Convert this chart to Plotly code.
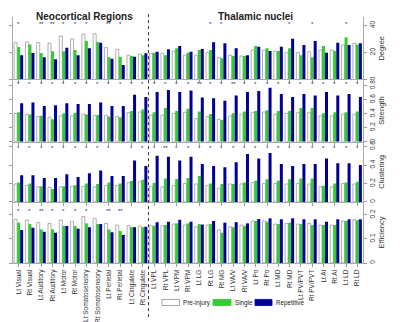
import plotly.graph_objects as go
from plotly.subplots import make_subplots

categories = ["Lt Visual", "Rt Visual", "Lt Auditory", "Rt Auditory", "Lt Motor", "Rt Motor",
              "Lt Somatosensory", "Rt Somatosensory", "Lt Perietal", "Rt Perietal",
              "Lt Cingulate", "Rt Cingulate",
              "Lt VPL", "Rt VPL", "Lt VPM", "Rt VPM", "Lt LG", "Rt LG", "Rt MG",
              "Lt VA/V", "Rt VA/V", "Lt Po", "Rt Po", "Lt MD", "Rt MD",
              "Lt PV/PVT", "Rt PV/PVT", "Lt AI", "Rt AI", "Lt LD", "Rt LD"]

series_names = ["Pre-injury", "Single", "Repetitive"]

degree_pre = [27.3, 27.8, 27.3, 26.8, 32.2, 30.0, 33.7, 33.9, 23.6, 22.4, 17.9, 18.9,
              19.4, 19.4, 21.1, 18.0, 18.0, 20.1, 16.2, 18.0, 17.4, 21.9, 21.9, 21.1, 20.1,
              20.1, 20.6, 21.9, 21.9, 25.6, 26.8]
degree_single = [24.0, 26.0, 19.6, 20.9, 20.9, 21.9, 28.5, 27.8, 16.4, 16.9, 17.4, 17.9,
                 19.9, 18.0, 23.1, 19.9, 21.9, 21.9, 15.7, 17.4, 17.4, 24.8, 23.1, 21.1, 23.1,
                 18.0, 16.4, 24.8, 21.1, 31.3, 26.0]
degree_rep = [18.0, 19.6, 16.4, 15.0, 23.6, 18.0, 23.1, 27.3, 15.4, 10.7, 16.9, 19.4,
              20.6, 22.4, 24.8, 20.6, 22.6, 27.5, 26.8, 23.1, 18.0, 24.3, 21.1, 24.3, 30.2,
              25.6, 28.5, 19.9, 27.3, 25.6, 26.8]

strength_pre = [0.405, 0.39, 0.36, 0.35, 0.37, 0.37, 0.395, 0.375, 0.375, 0.36, 0.415, 0.425,
                0.38, 0.38, 0.405, 0.42, 0.33, 0.36, 0.32, 0.37, 0.395, 0.42, 0.425, 0.395,
                0.405, 0.415, 0.415, 0.37, 0.37, 0.395, 0.395]
strength_single = [0.42, 0.39, 0.37, 0.32, 0.405, 0.415, 0.39, 0.38, 0.36, 0.35, 0.44, 0.46,
                   0.42, 0.48, 0.44, 0.47, 0.43, 0.395, 0.31, 0.405, 0.43, 0.44, 0.45, 0.44,
                   0.44, 0.48, 0.48, 0.405, 0.42, 0.42, 0.43]
strength_rep = [0.55, 0.56, 0.51, 0.52, 0.55, 0.54, 0.54, 0.56, 0.51, 0.51, 0.67, 0.64,
                0.71, 0.74, 0.71, 0.73, 0.63, 0.62, 0.585, 0.66, 0.71, 0.725, 0.77, 0.68,
                0.64, 0.68, 0.66, 0.71, 0.66, 0.68, 0.64]

clustering_pre = [0.195, 0.18, 0.165, 0.16, 0.165, 0.17, 0.17, 0.165, 0.18, 0.18, 0.21, 0.22,
                  0.17, 0.165, 0.18, 0.2, 0.195, 0.18, 0.15, 0.195, 0.195, 0.21, 0.2, 0.2,
                  0.195, 0.2, 0.195, 0.165, 0.165, 0.2, 0.195]
clustering_single = [0.21, 0.2, 0.17, 0.14, 0.17, 0.18, 0.2, 0.195, 0.21, 0.2, 0.23, 0.24,
                     0.205, 0.255, 0.25, 0.26, 0.28, 0.2, 0.195, 0.195, 0.21, 0.23, 0.245, 0.23,
                     0.245, 0.255, 0.255, 0.175, 0.2, 0.21, 0.22]
clustering_rep = [0.29, 0.29, 0.26, 0.26, 0.3, 0.27, 0.31, 0.34, 0.28, 0.28, 0.45, 0.39,
                  0.5, 0.49, 0.45, 0.49, 0.41, 0.39, 0.375, 0.43, 0.52, 0.47, 0.53, 0.41,
                  0.39, 0.41, 0.41, 0.47, 0.42, 0.42, 0.4]

efficiency_pre = [0.182, 0.179, 0.168, 0.165, 0.179, 0.172, 0.193, 0.186, 0.165, 0.158, 0.155, 0.154,
                  0.155, 0.155, 0.162, 0.158, 0.151, 0.158, 0.1375, 0.151, 0.158, 0.175, 0.175, 0.162,
                  0.165, 0.162, 0.165, 0.158, 0.158, 0.175, 0.18]
efficiency_single = [0.168, 0.162, 0.14, 0.14, 0.154, 0.154, 0.165, 0.162, 0.14, 0.133, 0.149, 0.149,
                     0.155, 0.158, 0.165, 0.165, 0.162, 0.162, 0.126, 0.149, 0.154, 0.175, 0.172, 0.162,
                     0.168, 0.162, 0.158, 0.158, 0.158, 0.175, 0.178]
efficiency_rep = [0.1375, 0.147, 0.13, 0.126, 0.154, 0.143, 0.149, 0.162, 0.128, 0.117, 0.149, 0.151,
                  0.17, 0.172, 0.18, 0.172, 0.16, 0.175, 0.168, 0.17, 0.165, 0.183, 0.186, 0.182,
                  0.186, 0.182, 0.182, 0.172, 0.182, 0.182, 0.182]

# significance markers per category
degree_sig = ["*", "", "**", "**", "*", "*", "*", "", "**", "*", "", "",
              "", "", "", "", "", "*", "*", "", "", "", "", "", "*", "", "*", "", "", "*", ""]
strength_sig = ["*", "*", "*", "*", "*", "*", "*", "*", "*", "*", "*", "*",
                "*", "*", "*", "*", "**", "*", "*", "**", "*", "*", "*", "*", "*", "*", "*", "*", "*", "*", "*"]
clustering_sig = ["*", "*", "*", "*", "*", "*", "*", "*", "*", "", "*", "*",
                  "*", "**", "*", "*", "*", "*", "*", "*", "*", "*", "*", "*", "*", "*", "*", "*", "*", "*", "*"]
efficiency_sig = ["*", "*", "**", "*", "*", "*", "*", "", "**", "**", "", "",
                  "", "", "", "", "", "", "", "", "", "", "", "", "", "", "", "", "", "", ""]

metric_names = ["Degree", "Strength", "Clustering", "Efficiency"]
metric_ticks = [[0, 20, 40], [0, 0.2, 0.4, 0.6, 0.8], [0, 0.2, 0.4, 0.6], [0, 0.1, 0.2]]
metric_ranges = [[0, 46.3], [0, 0.889], [0, 0.652], [0, 0.254]]

data = [
    (degree_pre, degree_single, degree_rep, degree_sig),
    (strength_pre, strength_single, strength_rep, strength_sig),
    (clustering_pre, clustering_single, clustering_rep, clustering_sig),
    (efficiency_pre, efficiency_single, efficiency_rep, efficiency_sig),
]

colors = ["#FFFFFF", "#33CC33", "#000099"]
line_colors = ["#8C8C8C", "#33CC33", "#000099"]
FONT = "Liberation Sans, Arial, sans-serif"

fig = make_subplots(rows=4, cols=1, shared_xaxes=True, vertical_spacing=0)

for r, (pre, sgl, rep, sig) in enumerate(data, start=1):
    for vals, name, c, lc in zip([pre, sgl, rep], series_names, colors, line_colors):
        fig.add_trace(go.Bar(x=categories, y=vals, name=name, marker_color=c,
                             marker_line_color=lc, marker_line_width=0.7 if c == "#FFFFFF" else 0,
                             showlegend=False), row=r, col=1)

domains = [[0.746, 1.0], [0.493, 0.746], [0.248, 0.493], [0.0, 0.248]]
axis_font = dict(family=FONT, size=6.5, color="#333333")

for i in range(4):
    yname = "yaxis" if i == 0 else f"yaxis{i+1}"
    xname = "xaxis" if i == 0 else f"xaxis{i+1}"
    fig.layout[yname].update(
        domain=domains[i], range=metric_ranges[i], side="right", automargin=False,
        tickvals=metric_ticks[i], ticktext=[str(t) for t in metric_ticks[i]],
        tickangle=-90, tickfont=dict(family=FONT, size=6.5, color="#333333"),
        ticks="outside", ticklen=3,
        tickcolor="#999999", showline=True, linecolor="#AAAAAA", linewidth=1,
        mirror="ticks", showgrid=False, zeroline=False,
        title=dict(text=metric_names[i], font=dict(family=FONT, size=7.5, color="#333333"),
                   standoff=3),
    )
    fig.layout[xname].update(
        showline=True, linecolor="#AAAAAA", linewidth=1, ticks="outside", ticklen=3,
        tickcolor="#999999", showgrid=False, range=[-0.5, len(categories) - 0.5],
        showticklabels=(i == 3), tickangle=-90, tickfont=axis_font, automargin=False,
        categoryorder="array", categoryarray=categories,
    )

# significance annotations
sig_y = [0.88, 0.92, 0.9, 0.86]
for i, (_, _, _, sig) in enumerate(data):
    yref = "y domain" if i == 0 else f"y{i+1} domain"
    xref = "x" if i == 0 else f"x{i+1}"
    for cat, s in zip(categories, sig):
        if s:
            fig.add_annotation(x=cat, y=sig_y[i], xref=xref, yref=yref, text=s, showarrow=False,
                               font=dict(size=6, color="#1A1A80", family=FONT),
                               yanchor="middle")

# region titles
fig.add_annotation(x=5.8, y=1.033, xref="x", yref="paper", text="<b>Neocortical Regions</b>",
                   showarrow=False, font=dict(size=10, color="#222222", family=FONT))
fig.add_annotation(x=21, y=1.033, xref="x", yref="paper", text="<b>Thalamic nuclei</b>",
                   showarrow=False, font=dict(size=10, color="#222222", family=FONT))

# divider line
fig.add_shape(type="line", x0=11.5, x1=11.5, xref="x", y0=-0.22, y1=1.016, yref="paper",
              line=dict(color="#333333", width=1, dash="dot"))

# legend (manual)
leg = [(0.4257, 0.4757, "#FFFFFF", "#8C8C8C", 0.48),
       (0.5714, 0.6229, "#33CC33", "#33CC33", 0.6286),
       (0.6914, 0.7400, "#000099", "#000099", 0.7457)]
for (x0, x1, fc, lc, tx), name in zip(leg, series_names):
    fig.add_shape(type="rect", x0=x0, x1=x1, y0=-0.173, y1=-0.148, xref="paper", yref="paper",
                  fillcolor=fc, line=dict(color=lc, width=0.8))
    fig.add_annotation(x=tx, y=-0.1606, xref="paper", yref="paper", text=name, showarrow=False,
                       xanchor="left", yanchor="middle",
                       font=dict(size=6.3, color="#222222", family=FONT))

fig.update_layout(
    width=400, height=322, barmode="group", bargap=0.2, bargroupgap=0,
    margin=dict(l=13, r=37, t=17, b=59),
    plot_bgcolor="white", paper_bgcolor="white", showlegend=False,
)

fig.write_html("out.html", config={"displayModeBar": False},
               post_script="document.body.style.margin='0';")
